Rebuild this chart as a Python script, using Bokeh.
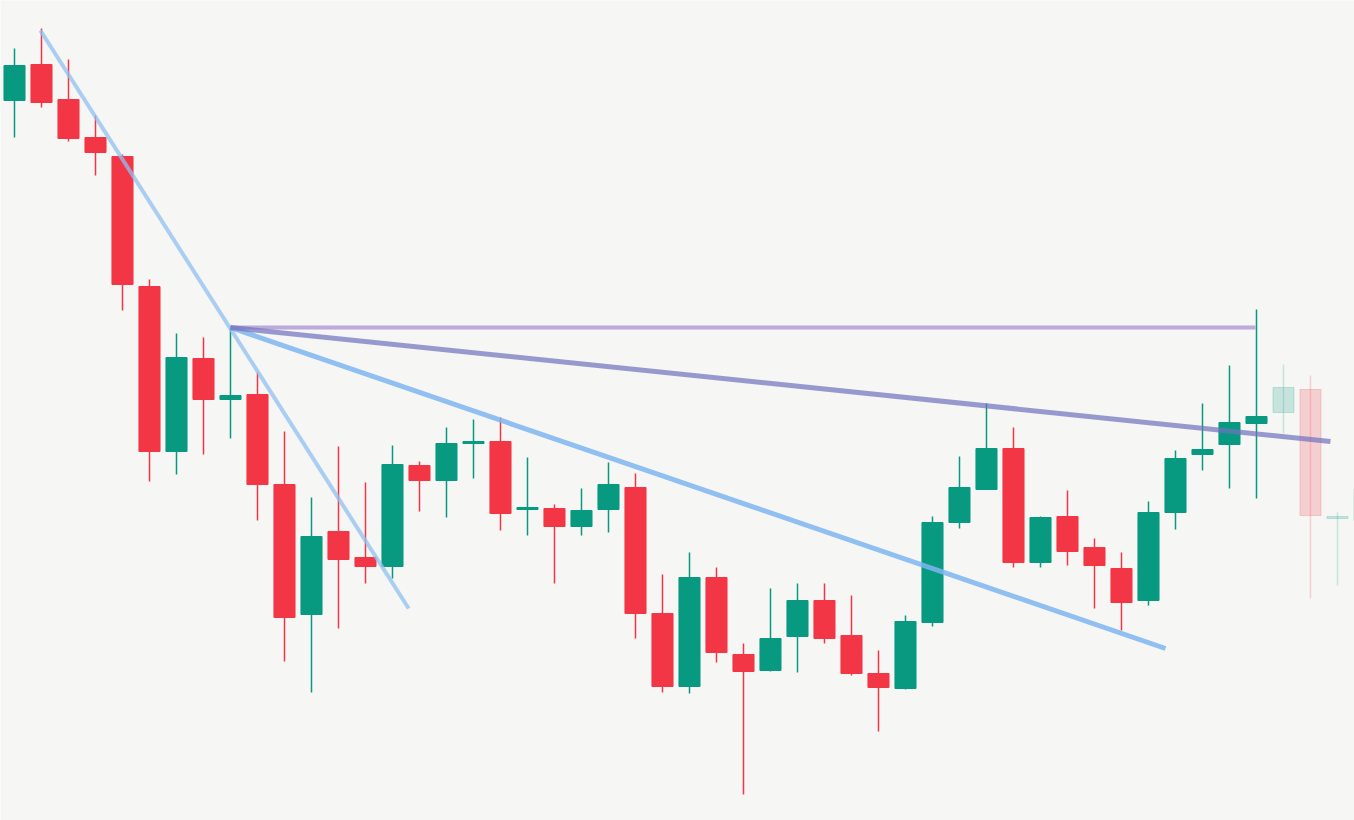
from bokeh.plotting import figure
from bokeh.models import ColumnDataSource, Range1d
from bokeh.embed import file_html
from bokeh.resources import INLINE

# ---- candle data (price units) ----
idx = list(range(51))
opens = [72.0, 75.6, 72.1, 68.3, 66.4, 53.4, 36.9, 46.2, 42.1, 42.6,
         33.6, 20.6, 28.9, 26.3, 25.4, 35.5, 34.0, 37.7, 37.9, 31.1,
         31.2, 29.4, 31.1, 33.3, 20.7, 13.4, 24.3, 16.6, 15.0, 18.4,
         22.0, 18.5, 14.7, 13.2, 19.8, 29.8, 33.1, 37.2, 25.8, 30.4,
         27.3, 25.2, 22.0, 30.8, 36.6, 37.6, 39.7, 40.8, 43.1, 30.2,
         30.0]
highs = [77.2, 79.2, 76.1, 70.5, 66.6, 54.1, 48.7, 48.3, 49.3, 44.8,
         38.9, 32.3, 37.4, 33.8, 37.5, 35.9, 39.3, 40.1, 40.3, 36.3,
         31.6, 33.2, 35.8, 34.7, 24.6, 26.8, 25.3, 17.7, 23.2, 23.7,
         23.7, 22.5, 17.0, 20.5, 30.4, 36.4, 41.7, 39.3, 30.4, 33.0,
         28.2, 26.8, 31.9, 37.0, 41.7, 45.5, 51.1, 45.6, 44.5, 30.8,
         33.0]
lows = [68.3, 71.3, 67.9, 64.5, 51.0, 33.9, 34.6, 36.6, 38.2, 30.0,
        15.9, 12.8, 19.2, 23.7, 24.2, 30.9, 30.3, 34.2, 29.0, 28.5,
        23.7, 28.5, 28.8, 18.2, 12.8, 12.7, 15.8, 2.6, 14.9, 14.8,
        17.7, 14.5, 8.9, 13.1, 19.4, 29.2, 33.1, 25.3, 25.3, 25.5,
        21.2, 19.0, 21.5, 29.1, 35.0, 33.2, 32.2, 38.7, 22.2, 23.5,
        26.0]
closes = [75.5, 71.8, 68.2, 66.8, 53.6, 36.9, 46.3, 42.1, 42.5, 33.6,
          20.3, 28.4, 26.1, 25.4, 35.6, 34.0, 37.7, 37.9, 30.7, 31.3,
          29.4, 31.0, 33.6, 20.7, 13.4, 24.3, 16.8, 14.9, 18.2, 22.0,
          18.2, 14.7, 13.3, 19.9, 29.8, 33.3, 37.2, 25.8, 30.3, 26.9,
          25.5, 21.8, 30.8, 36.2, 37.1, 39.8, 40.4, 43.3, 30.5, 30.4,
          33.2]
faded_from = 47

# ---- trend lines (index, price) ----
steep_x = [0.96, 14.6]
steep_y = [79.0, 21.2]
lower_x = [8.0, 42.63]
lower_y = [49.3, 17.2]
flat_x = [8.0, 45.96]
flat_y = [49.3, 49.3]
upper_x = [8.0, 48.74]
upper_y = [49.3, 37.9]

GREEN = "#089981"
RED = "#F23645"
BG = "#f6f6f4"

colors = [GREEN if c >= o else RED for o, c in zip(opens, closes)]
alphas = [0.2 if i >= faded_from else 1.0 for i in idx]
tops = [max(o, c) for o, c in zip(opens, closes)]
bottoms = [min(o, c) for o, c in zip(opens, closes)]

src = ColumnDataSource(dict(x=idx, high=highs, low=lows, top=tops, bottom=bottoms,
                            color=colors, alpha=alphas))

p = figure(width=1354, height=820, output_backend="svg", toolbar_location=None,
           x_range=Range1d(-0.5185, 49.63), y_range=Range1d(0.0, 82.0),
           min_border=0)
p.axis.visible = False
p.grid.visible = False
p.outline_line_color = None
p.background_fill_color = BG
p.border_fill_color = BG

p.segment(x0="x", y0="low", x1="x", y1="high", source=src, line_color="color",
          line_alpha="alpha", line_width=1.5)
p.vbar(x="x", top="top", bottom="bottom", width=0.78, source=src, fill_color="color",
       line_color="color", fill_alpha="alpha", line_alpha="alpha", line_width=1)

p.line(steep_x, steep_y, line_color="#8fc0f2", line_alpha=0.75, line_width=4)
p.line(lower_x, lower_y, line_color="#7eb5f0", line_alpha=0.85, line_width=5)
p.line(flat_x, flat_y, line_color="#a98fd6", line_alpha=0.75, line_width=4)
p.line(upper_x, upper_y, line_color="#6f72bd", line_alpha=0.7, line_width=5)

open("out.html", "w").write(file_html(p, INLINE))
